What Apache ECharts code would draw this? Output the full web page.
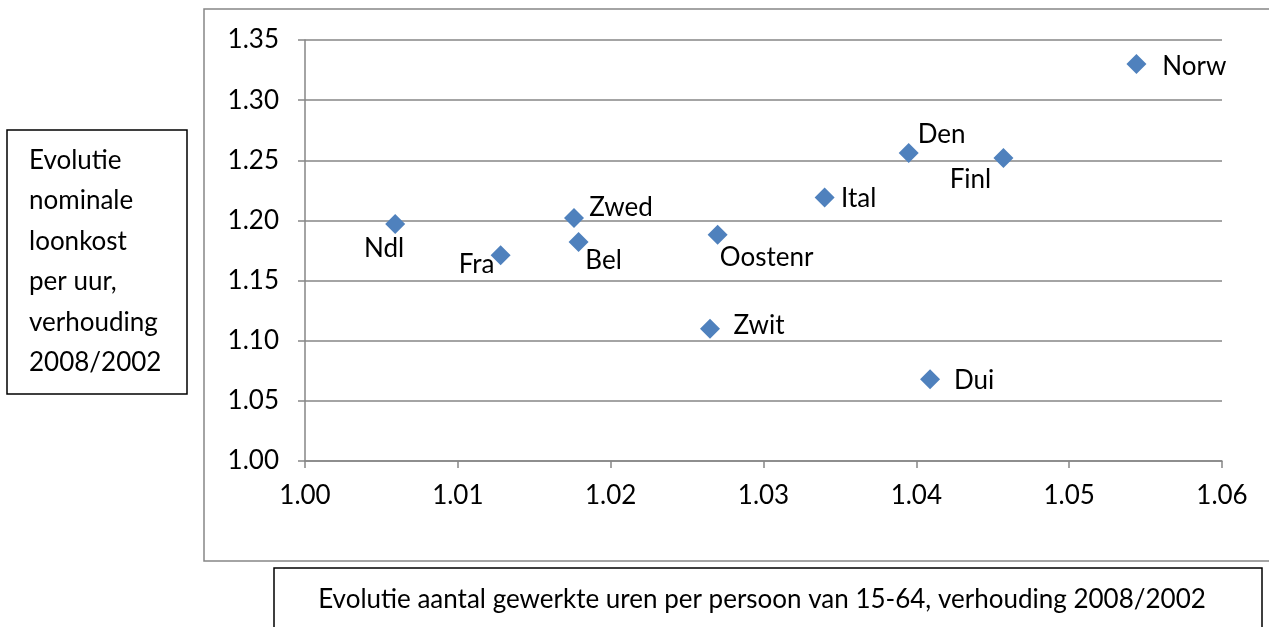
<!DOCTYPE html>
<html>
<head>
<meta charset="utf-8">
<script src="https://cdn.jsdelivr.net/npm/echarts@6/dist/echarts.min.js"></script>
<style>
    html, body { margin: 0; padding: 0; background: #fff; }
    #chart { width: 1269px; height: 627px; }
</style>
</head>
<body>
<div id="chart"></div>
<script>
    // landen en waarden
    var landen = ['Ndl', 'Fra', 'Zwed', 'Bel', 'Oostenr', 'Zwit', 'Ital', 'Den', 'Finl', 'Dui', 'Norw'];
    var urenRatio = [1.0059, 1.0128, 1.0176, 1.0179, 1.0270, 1.0265, 1.0340, 1.0395, 1.0457, 1.0409, 1.0544];
    var loonkostRatio = [1.197, 1.171, 1.202, 1.182, 1.188, 1.110, 1.219, 1.256, 1.252, 1.068, 1.330];

    // verschuiving van het label t.o.v. het punt (px)
    var labelVerschuiving = {
        'Ndl': [-11, 25], 'Fra': [-24, 9], 'Zwed': [47, -10], 'Bel': [25, 19],
        'Oostenr': [49, 23], 'Zwit': [49, -3], 'Ital': [34, 1], 'Den': [33, -18],
        'Finl': [-33, 22], 'Dui': [44, 1], 'Norw': [58, 3]
    };

    var lettertype = 'Lato, "Open Sans", sans-serif';
    var grootte = 26;

    var punten = landen.map(function (naam, i) {
        return {
            name: naam,
            value: [urenRatio[i], loonkostRatio[i]],
            label: { offset: labelVerschuiving[naam] }
        };
    });

    var chart = echarts.init(document.getElementById('chart'));
    var option = {
        animation: false,
        textStyle: { fontFamily: lettertype },
        grid: { left: 305, right: 47, top: 40, bottom: 166 },
        xAxis: {
            type: 'value',
            min: 1.00,
            max: 1.06,
            interval: 0.01,
            axisLine: { show: true, lineStyle: { color: '#868686', width: 1.5 } },
            axisTick: { show: true, length: 7, lineStyle: { color: '#868686', width: 1.5 } },
            splitLine: { show: false },
            axisLabel: {
                color: '#000', fontSize: grootte, margin: 22, fontFamily: lettertype,
                formatter: function (v) { return v.toFixed(2); }
            }
        },
        yAxis: {
            type: 'value',
            min: 1.00,
            max: 1.35,
            interval: 0.05,
            axisLine: { show: true, lineStyle: { color: '#868686', width: 1.5 } },
            axisTick: { show: true, length: 7, lineStyle: { color: '#868686', width: 1.5 } },
            splitLine: { show: true, lineStyle: { color: '#868686', width: 1.5 } },
            axisLabel: {
                color: '#000', fontSize: grootte, margin: 26, fontFamily: lettertype,
                formatter: function (v) { return v.toFixed(2); }
            }
        },
        series: [{
            type: 'scatter',
            symbol: 'diamond',
            symbolSize: [20, 20],
            itemStyle: { color: '#4F81BD', opacity: 1 },
            label: {
                show: true,
                position: 'inside',
                color: '#000',
                fontSize: grootte,
                fontFamily: lettertype,
                formatter: '{b}'
            },
            data: punten
        }],
        graphic: [
            // kader rond de grafiek
            {
                type: 'rect', silent: true, z: -1,
                shape: { x: 204, y: 9, width: 1080, height: 552 },
                style: { fill: 'none', stroke: '#868686', lineWidth: 1.5 }
            },
            // y-as titel
            {
                type: 'rect', silent: true,
                shape: { x: 7, y: 130, width: 180, height: 264 },
                style: { fill: '#fff', stroke: '#000', lineWidth: 1.5 }
            },
            {
                type: 'text', silent: true, left: 29, top: 140,
                style: {
                    text: 'Evolutie\nnominale\nloonkost\nper uur,\nverhouding\n2008/2002',
                    font: grootte + 'px ' + lettertype, fill: '#000', lineHeight: 40.5
                }
            },
            // x-as titel
            {
                type: 'rect', silent: true,
                shape: { x: 274, y: 568, width: 988, height: 80 },
                style: { fill: '#fff', stroke: '#000', lineWidth: 1.5 }
            },
            {
                type: 'text', silent: true, x: 762, y: 600,
                style: {
                    text: 'Evolutie aantal gewerkte uren per persoon van 15-64, verhouding 2008/2002',
                    font: grootte + 'px ' + lettertype, fill: '#000', align: 'center', verticalAlign: 'middle'
                }
            }
        ]
    };
    chart.setOption(option);
</script>
</body>
</html>
